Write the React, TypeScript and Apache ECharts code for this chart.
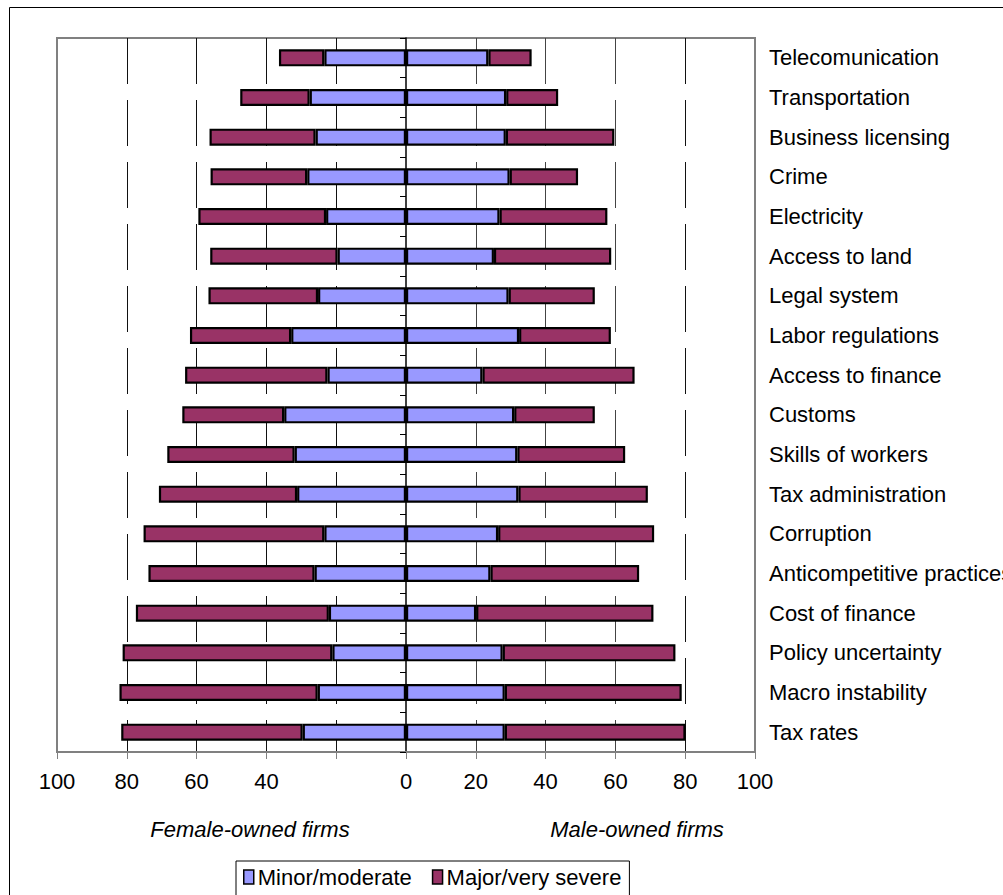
import React, { useEffect, useRef } from "react";
import * as echarts from "echarts";

const categories = [
  "Telecomunication",
  "Transportation",
  "Business licensing",
  "Crime",
  "Electricity",
  "Access to land",
  "Legal system",
  "Labor regulations",
  "Access to finance",
  "Customs",
  "Skills of workers",
  "Tax administration",
  "Corruption",
  "Anticompetitive practices",
  "Cost of finance",
  "Policy uncertainty",
  "Macro instability",
  "Tax rates",
];

const femaleMinor = [23.4, 27.6, 25.9, 28.3, 22.9, 19.6, 25.2, 32.9, 22.5, 34.9, 31.9, 31.2, 23.4, 26.2, 22.1, 21.1, 25.3, 29.6];
const femaleMajor = [13.0, 19.9, 30.4, 27.7, 36.6, 36.5, 31.4, 29.0, 40.8, 29.2, 36.5, 39.6, 51.8, 47.6, 55.3, 60.1, 56.8, 52.0];
const maleMinor = [23.6, 28.7, 28.6, 29.7, 26.8, 25.2, 29.4, 32.4, 21.9, 31.0, 31.9, 32.2, 26.4, 24.2, 20.1, 27.7, 28.3, 28.3];
const maleMajor = [12.4, 14.9, 31.1, 19.6, 30.9, 33.6, 24.7, 26.3, 43.6, 23.1, 30.9, 37.1, 44.7, 42.6, 50.8, 49.5, 50.7, 51.8];

const xTickLabels: Record<string, string> = {
  "-100": "100", "-80": "80", "-60": "60", "-40": "40", "-20": "",
  "0": "0", "20": "20", "40": "40", "60": "60", "80": "80", "100": "100",
};

const seriesNames = ["Minor/moderate", "Major/very severe"];
const sideTitles = ["Female-owned firms", "Male-owned firms"];

const FONT = "'Liberation Sans', Arial, sans-serif";
const FS = 22;
const BLUE = "#9999FF";
const MAROON = "#993366";

export default function App() {
  const ref = useRef<HTMLDivElement>(null);
  useEffect(() => {
    if (!ref.current) return;
    const chart = echarts.init(ref.current, null, { renderer: "svg" });
    const barStyle = (c: string) => ({ color: c, borderColor: "#000", borderWidth: 2.2 });
    const bw = 17;
    chart.setOption({
      animation: false,
      backgroundColor: "#fff",
      textStyle: { fontFamily: FONT },
      grid: {
        left: 57,
        right: 248,
        top: 38,
        bottom: 143,
        containLabel: false,
        outerBoundsMode: "none",
        show: true,
        borderColor: "#808080",
        borderWidth: 2,
        backgroundColor: "transparent",
      },
      xAxis: {
        type: "value",
        min: -100,
        max: 100,
        interval: 20,
        axisLine: { show: true, onZero: false, lineStyle: { color: "#808080", width: 2 } },
        axisTick: { show: true, length: 7, lineStyle: { color: "#808080", width: 1 } },
        axisLabel: {
          color: "#000",
          fontSize: FS,
          fontFamily: FONT,
          margin: 18,
          formatter: (v: number) => xTickLabels[String(v)] ?? String(Math.abs(v)),
        },
        splitLine: {
          show: true,
          lineStyle: {
            color: [
              "rgba(0,0,0,0)", "#111", "#111", "#111", "#111", "rgba(0,0,0,0)",
              "#444", "#444", "#444", "#111", "rgba(0,0,0,0)",
            ],
            width: 1,
            type: [46, 16],
          },
        },
      },
      yAxis: [
        {
          type: "category",
          data: categories,
          inverse: true,
          position: "left",
          axisLine: { show: true, onZero: true, lineStyle: { color: "#000", width: 1.5 } },
          axisTick: { show: true, length: 6, lineStyle: { color: "#000", width: 1 } },
          axisLabel: { show: false },
          splitLine: { show: false },
        },
        {
          type: "category",
          data: categories,
          inverse: true,
          position: "right",
          axisLine: { show: false, onZero: false },
          axisTick: { show: false },
          axisLabel: { show: true, color: "#000", fontSize: FS, fontFamily: FONT, margin: 14, align: "left" },
          splitLine: { show: false },
        },
      ],
      legend: {
        data: seriesNames,
        left: 236,
        top: 861,
        orient: "horizontal",
        padding: [5, 8, 8, 7],
        itemWidth: 10,
        itemHeight: 14,
        itemGap: 20,
        icon: "rect",
        borderColor: "#000",
        borderWidth: 1,
        itemStyle: { borderColor: "#000", borderWidth: 1.5 },
        textStyle: { color: "#000", fontSize: FS, fontFamily: FONT, padding: [0, 0, 0, -1] },
      },
      series: [
        {
          name: seriesNames[0],
          type: "bar",
          stack: "all",
          yAxisIndex: 0,
          barWidth: bw,
          itemStyle: barStyle(BLUE),
          data: femaleMinor.map((v) => -v),
        },
        {
          name: seriesNames[0],
          type: "bar",
          stack: "all",
          yAxisIndex: 0,
          barWidth: bw,
          itemStyle: barStyle(BLUE),
          data: maleMinor,
        },
        {
          name: seriesNames[1],
          type: "bar",
          stack: "all",
          yAxisIndex: 0,
          barWidth: bw,
          itemStyle: barStyle(MAROON),
          data: femaleMajor.map((v) => -v),
        },
        {
          name: seriesNames[1],
          type: "bar",
          stack: "all",
          yAxisIndex: 0,
          barWidth: bw,
          itemStyle: barStyle(MAROON),
          data: maleMajor,
        },
      ],
      graphic: [
        {
          type: "line",
          shape: { x1: 9.5, y1: 7.5, x2: 1003, y2: 7.5 },
          style: { stroke: "#000", lineWidth: 1 },
          silent: true,
        },
        {
          type: "line",
          shape: { x1: 9.5, y1: 7.5, x2: 9.5, y2: 895 },
          style: { stroke: "#000", lineWidth: 1 },
          silent: true,
        },
        {
          type: "text",
          x: 250,
          y: 829,
          style: {
            text: sideTitles[0],
            fill: "#000",
            font: `italic ${FS}px ${FONT}`,
            align: "center",
            verticalAlign: "middle",
          },
        },
        {
          type: "text",
          x: 637,
          y: 829,
          style: {
            text: sideTitles[1],
            fill: "#000",
            font: `italic ${FS}px ${FONT}`,
            align: "center",
            verticalAlign: "middle",
          },
        },
      ],
    });
    return () => chart.dispose();
  }, []);
  return (
    <div
      ref={ref}
      style={{ position: "fixed", left: 0, top: 0, width: 1003, height: 895, background: "#fff" }}
    />
  );
}
